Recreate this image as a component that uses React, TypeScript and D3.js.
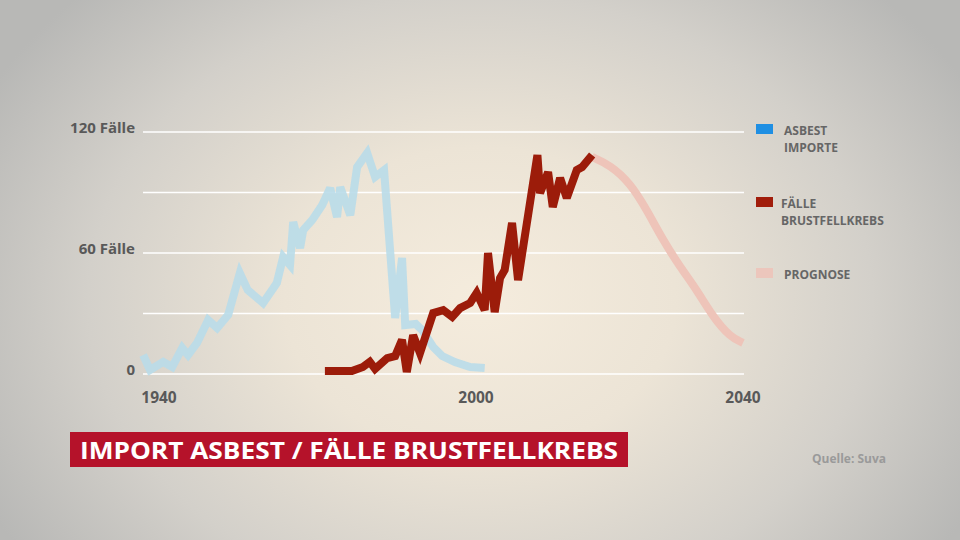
import React from "react";
import * as d3 from "d3";

const asbestYears = [1937.0, 1938.3, 1940.8, 1942.5, 1944.4, 1945.5, 1947.2, 1949.3, 1951.0, 1953.1, 1955.3, 1956.8, 1959.7, 1962.3, 1963.5, 1964.8, 1965.4, 1966.7, 1967.3, 1969.0, 1970.9, 1972.4, 1973.7, 1974.3, 1976.2, 1977.5, 1979.4, 1980.9, 1982.6, 1984.7, 1986.0, 1986.6, 1988.6, 1989.8, 1991.9, 1993.6, 1996.0, 1998.9, 2001.3];
const asbestValues = [9.4, 2.0, 6.0, 3.5, 12.9, 9.4, 15.4, 26.8, 22.8, 29.3, 50.1, 41.6, 35.2, 45.1, 58.0, 54.0, 75.4, 62.5, 71.4, 76.4, 83.8, 92.2, 77.8, 92.7, 78.8, 102.6, 109.6, 97.7, 101.1, 27.8, 57.5, 24.3, 24.8, 21.8, 13.4, 8.9, 5.9, 3.5, 3.0];

const faelleYears = [1971.4, 1976.5, 1978.6, 1979.9, 1980.9, 1983.2, 1984.7, 1986.0, 1986.9, 1988.1, 1989.4, 1991.9, 1993.8, 1995.5, 1997.0, 1998.9, 2000.1, 2001.3, 2001.8, 2002.8, 2003.6, 2004.3, 2005.4, 2006.3, 2009.2, 2009.6, 2010.8, 2011.5, 2012.6, 2013.6, 2015.1, 2015.9, 2017.4];
const faelleValues = [1.5, 1.5, 3.5, 6.0, 2.5, 7.9, 8.9, 16.9, 1.0, 19.3, 10.4, 30.2, 31.7, 28.3, 32.7, 35.2, 40.2, 31.7, 60.0, 30.7, 47.6, 51.6, 74.9, 46.6, 108.6, 89.7, 100.1, 82.8, 97.2, 87.3, 101.1, 102.6, 108.6];

const prognoseYears = [2017.4, 2020.1, 2023.1, 2025.6, 2028.0, 2030.6, 2033.1, 2035.5, 2038.1, 2040.0];
const prognoseValues = [107.6, 103.6, 94.7, 81.3, 66.4, 53.0, 41.6, 28.3, 18.3, 15.4];

const gridValues = [0, 30, 60, 90, 120];
const yLabelValues = [0, 60, 120];
const yLabels = ["0", "60 Fälle", "120 Fälle"];
const xTicks = [1940, 2000, 2040];

const legendItems = [
  { lines: ["ASBEST", "IMPORTE"], color: "#1f8fe3" },
  { lines: ["FÄLLE", "BRUSTFELLKREBS"], color: "#a11d0b" },
  { lines: ["PROGNOSE"], color: "#ecc6bc" },
];

const title = "IMPORT ASBEST / FÄLLE BRUSTFELLKREBS";
const source = "Quelle: Suva";

const W = 960;
const H = 540;
const FONT = "'Open Sans', 'Noto Sans', sans-serif";

export default function App() {
  const x = d3.scaleLinear().domain([1940, 2000, 2040]).range([159, 476, 743]);
  const y = d3.scaleLinear().domain([0, 120]).range([374, 132]);

  const pts = (ys: number[], vs: number[]) => ys.map((yr, i) => [yr, vs[i]] as [number, number]);
  const line = d3
    .line<[number, number]>()
    .x((d) => x(d[0]))
    .y((d) => y(d[1]));
  const smooth = d3
    .line<[number, number]>()
    .x((d) => x(d[0]))
    .y((d) => y(d[1]))
    .curve(d3.curveBasis);

  const legendY = [124, 197, 268];
  const legendTextX = [784, 781, 784];

  return (
    <svg
      width={W}
      height={H}
      style={{ position: "absolute", left: 0, top: 0, display: "block" }}
      fontFamily={FONT}
    >
      <defs>
        <radialGradient id="bg" cx="480" cy="300" r="560" gradientUnits="userSpaceOnUse" gradientTransform="translate(480 300) scale(1 0.78) translate(-480 -300)">
          <stop offset="0" stopColor="#f5ecdd" />
          <stop offset="0.35" stopColor="#ece4d6" />
          <stop offset="0.7" stopColor="#d3d0ca" />
          <stop offset="1" stopColor="#b8b8b6" />
        </radialGradient>
      </defs>
      <rect x={0} y={0} width={W} height={H} fill="url(#bg)" />

      {gridValues.map((v) => (
        <line key={v} x1={143} x2={744} y1={y(v)} y2={y(v)} stroke="#ffffff" strokeWidth={1.6} />
      ))}

      {yLabelValues.map((v, i) => (
        <text key={v} x={135} y={y(v) + 1} textAnchor="end" fontSize={15} fontWeight={700} fill="#595959">
          {yLabels[i]}
        </text>
      ))}

      {xTicks.map((t) => (
        <text key={t} x={x(t)} y={403} textAnchor="middle" fontSize={15.5} fontWeight={700} fill="#595959">
          {t}
        </text>
      ))}

      <path
        d={line(pts(asbestYears, asbestValues)) || ""}
        fill="none"
        stroke="#b9dbe9"
        strokeOpacity={0.9}
        strokeWidth={8}
        strokeLinejoin="miter"
        strokeMiterlimit={3}
      />
      <path
        d={smooth(pts(prognoseYears, prognoseValues)) || ""}
        fill="none"
        stroke="#eec4b9"
        strokeWidth={8}
        strokeLinecap="butt"
      />
      <path
        d={line(pts(faelleYears, faelleValues)) || ""}
        fill="none"
        stroke="#9c1c0a"
        strokeWidth={8}
        strokeLinejoin="miter"
        strokeMiterlimit={3}
      />

      {legendItems.map((item, i) => (
        <g key={i}>
          <rect x={756} y={legendY[i]} width={17} height={10} fill={item.color} />
          {item.lines.map((l, j) => (
            <text
              key={j}
              x={legendTextX[i]}
              y={legendY[i] + 11 + j * 17}
              fontSize={12}
              fontWeight={700}
              fill="#666666"
            >
              {l}
            </text>
          ))}
        </g>
      ))}

      <rect x={70} y={432} width={558} height={35} fill="#b5122a" />
      <text x={80} y={459} fontSize={24} fontWeight={700} fill="#ffffff" textLength={538} lengthAdjust="spacingAndGlyphs">
        {title}
      </text>

      <text x={812} y={463} fontSize={12} fontWeight={700} fill="#9a9a9a">
        {source}
      </text>
    </svg>
  );
}
